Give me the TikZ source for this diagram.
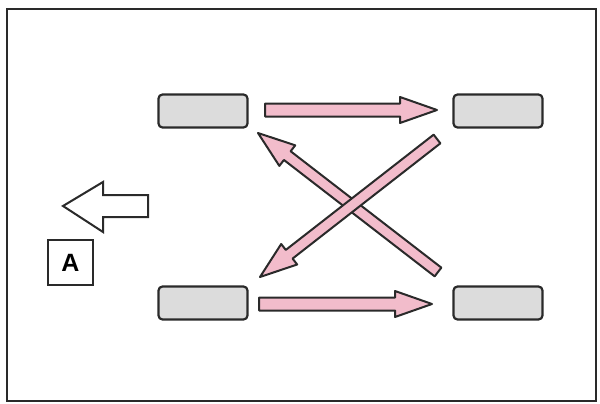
\documentclass[tikz,border=0pt]{standalone}
\usepackage{fontspec}
\setmainfont{Liberation Sans}
\usetikzlibrary{calc}
\definecolor{pinkf}{HTML}{F2BCCB}
\definecolor{boxf}{HTML}{DCDCDC}
\definecolor{edge}{HTML}{2A2A2A}
\tikzset{
  wheel/.style={draw=edge,fill=boxf,line width=2.2pt,rounded corners=4pt,minimum width=89pt,minimum height=33pt,inner sep=0pt},
  fat/.style={draw=edge,fill=pinkf,line width=2pt,line join=round},
  hollow/.style={draw=edge,fill=white,line width=2pt,line join=miter},
  labelbox/.style={draw=edge,line width=1.5pt,minimum width=45pt,minimum height=45pt,inner sep=0pt,font=\bfseries\fontsize{25}{25}\selectfont},
}
\newcommand\fatarr[3]{%
 \path ($(#2)!37pt!(#1)$) coordinate (hb);
 \draw[fat] ($(#1)!#3!90:(#2)$) -- ($(hb)!#3!90:(#2)$) -- ($(hb)!13pt!90:(#2)$) -- (#2) -- ($(hb)!13pt!-90:(#2)$) -- ($(hb)!#3!-90:(#2)$) -- ($(#1)!#3!-90:(#2)$) -- cycle;}
\begin{document}
\begin{tikzpicture}[x=1pt,y=-1pt]
\useasboundingbox (0,0) rectangle (600,404);
\draw[edge,line width=1.8pt] (7,9) rectangle (596,401);
\node[wheel] (fl) at (203,111) {};
\node[wheel] (fr) at (498,111) {};
\node[wheel] (rl) at (203,303) {};
\node[wheel] (rr) at (498,303) {};
% connector end points
\coordinate (a1) at (265,110);
\coordinate (a2) at (437,110);
\coordinate (b1) at (259,304);
\coordinate (b2) at (432,304);
\coordinate (c1) at (438,272);
\coordinate (c2) at (258,133);
\coordinate (d1) at (437,139);
\coordinate (d2) at (260,277);
\fatarr{a1}{a2}{6.5pt}
\fatarr{b1}{b2}{6.5pt}
\fatarr{c1}{c2}{5.5pt}
\fatarr{d1}{d2}{5.5pt}
% direction arrow
\coordinate (tip) at (63,206);
\draw[hollow] (tip) -- (103,182) -- (103,195) -- (148,195) -- (148,217) -- (103,217) -- (103,232) -- cycle;
\node[labelbox] (A) at (70.5,262.5) {A};
\end{tikzpicture}
\end{document}
